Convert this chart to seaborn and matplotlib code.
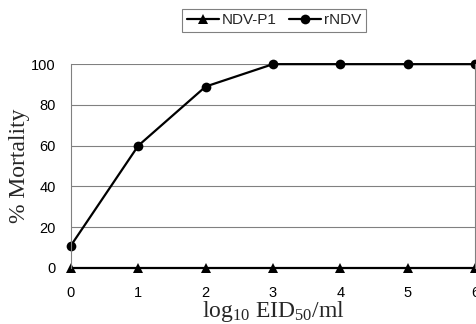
import matplotlib
matplotlib.use("Agg")
import matplotlib.pyplot as plt
import seaborn as sns
import pandas as pd

# log10 EID50/ml doses and % mortality
doses = [0, 1, 2, 3, 4, 5, 6]
ndv_p1 = [0, 0, 0, 0, 0, 0, 0]
rndv = [11, 60, 89, 100, 100, 100, 100]
yticks = [0, 20, 40, 60, 80, 100]

sns.set_theme(style="white")
plt.rcParams['font.family'] = ['Liberation Sans', 'DejaVu Sans']
plt.rcParams['mathtext.fontset'] = 'custom'
plt.rcParams['mathtext.rm'] = 'Liberation Serif'
plt.rcParams['mathtext.it'] = 'Liberation Serif:italic'

df = pd.DataFrame({
    'dose': doses * 2,
    'mortality': ndv_p1 + rndv,
    'virus': ['NDV-P1'] * len(doses) + ['rNDV'] * len(doses),
})

fig = plt.figure(figsize=(4.76, 3.24), dpi=100)
ax = fig.add_axes([0.149, 0.173, 0.849, 0.629])

# horizontal grid lines
for ax_y in yticks[1:]:
    ax.axhline(ax_y, color='#808080', lw=0.8, zorder=0)

sns.lineplot(data=df, x='dose', y='mortality', hue='virus', style='virus',
             markers={'NDV-P1': '^', 'rNDV': 'o'}, dashes=False,
             palette={'NDV-P1': 'black', 'rNDV': 'black'},
             markersize=7, linewidth=1.6, markeredgewidth=0,
             ax=ax, clip_on=False, legend=True)

ax.set_xlim(0, 6)
ax.set_ylim(0, 100)
ax.set_xticks(doses)
ax.set_yticks(yticks)
ax.tick_params(axis='both', length=0, labelsize=10.5, colors='black')
ax.tick_params(axis='y', pad=11)
ax.tick_params(axis='x', pad=13)

for side in ['left', 'right']:
    ax.spines[side].set_color('#808080')
    ax.spines[side].set_linewidth(0.8)
ax.spines['top'].set_visible(False)
ax.spines['bottom'].set_visible(False)

ax.set_ylabel('% Mortality', family='Liberation Serif', fontsize=17, labelpad=1)
ax.set_xlabel(r'$\mathrm{log_{10}\ EID_{50}/ml}$', fontsize=17, labelpad=-1)

handles, labels = ax.get_legend_handles_labels()
ax.get_legend().remove()
leg = fig.legend(handles, labels, loc='center', bbox_to_anchor=(0.576, 0.938),
                 ncol=2, frameon=True, fontsize=11, handlelength=2.1,
                 columnspacing=0.8, handletextpad=0.2, borderpad=0.3,
                 fancybox=False)
leg.get_frame().set_edgecolor('#606060')
leg.get_frame().set_linewidth(0.8)

fig.savefig('out.png', dpi=100)
